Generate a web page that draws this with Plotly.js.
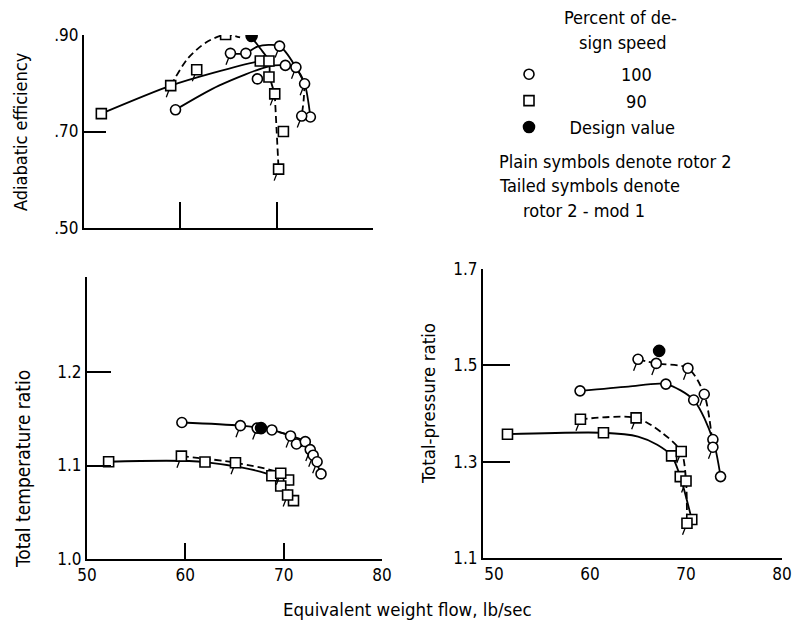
<!DOCTYPE html>
<html>
<head>
<meta charset="utf-8">
<script src="https://cdn.plot.ly/plotly-3.0.1.min.js"></script>
<style>html,body{margin:0;padding:0;background:#fff}</style>
</head>
<body>
<div id="chart" style="width:795px;height:625px"></div>
<script>
// ---------------- Data ----------------
// Panel 1: Adiabatic efficiency
const effCircPlainX = [59.5, 66.8, 68.0, 70.9, 73.5];
const effCircPlainY = [0.745, 0.862, 0.809, 0.837, 0.730];
const effCircTailX  = [65.2, 70.3, 72.0, 72.9, 72.6];
const effCircTailY  = [0.862, 0.877, 0.833, 0.799, 0.732];
const effSqPlainX   = [51.8, 68.3, 69.2, 69.2, 70.7];
const effSqPlainY   = [0.737, 0.846, 0.846, 0.813, 0.700];
const effSqTailX    = [59.0, 61.7, 64.7, 69.8, 70.2];
const effSqTailY    = [0.795, 0.828, 0.901, 0.778, 0.622];
const effDesignX    = [67.4];
const effDesignY    = [0.898];
// faired curves
const eff100SolidX  = [59.5, 64.0, 69.2, 70.9, 72.0, 72.9, 73.5];
const eff100SolidY  = [0.745, 0.795, 0.835, 0.837, 0.830, 0.799, 0.730];
const eff100UpperX  = [65.2, 66.8, 68.0, 70.3, 72.0, 72.9];
const eff100UpperY  = [0.862, 0.862, 0.876, 0.877, 0.833, 0.799];
const eff100DashX   = [72.9, 72.8, 72.6];
const eff100DashY   = [0.799, 0.765, 0.732];
const eff90SolidX   = [51.8, 59.0, 63.5, 68.3, 69.2];
const eff90SolidY   = [0.737, 0.795, 0.822, 0.846, 0.846];
const eff90DropX    = [67.4, 68.3, 69.2, 69.3, 69.8];
const eff90DropY    = [0.895, 0.872, 0.846, 0.813, 0.778];
const eff90DashX    = [59.0, 60.8, 62.7, 64.7, 66.2, null, 69.8, 70.0, 70.2];
const eff90DashY    = [0.795, 0.852, 0.885, 0.901, 0.895, null, 0.778, 0.700, 0.622];

// Panel 2: Total temperature ratio
const tmpCircPlainX = [59.65, 68.8, 71.3, 72.2, 73.8];
const tmpCircPlainY = [1.146, 1.138, 1.123, 1.1255, 1.091];
const tmpCircTailX  = [65.6, 67.3, 70.7, 72.7, 73.0, 73.4];
const tmpCircTailY  = [1.1426, 1.140, 1.1316, 1.117, 1.111, 1.104];
const tmpSqPlainX   = [52.2, 62.0, 68.8, 70.5, 69.7, 71.0];
const tmpSqPlainY   = [1.104, 1.1037, 1.089, 1.0845, 1.078, 1.0624];
const tmpSqTailX    = [59.6, 65.1, 69.7, 70.4];
const tmpSqTailY    = [1.110, 1.103, 1.0917, 1.0684];
const tmpDesignX    = [67.7];
const tmpDesignY    = [1.140];
const tmp100SolidX  = [59.65, 65.6, 68.8, 70.7, 72.2, 73.0, 73.8];
const tmp100SolidY  = [1.146, 1.1426, 1.138, 1.1316, 1.1255, 1.111, 1.091];
const tmp100DashX   = [67.3, 70.7, 71.3, 72.7, 73.4];
const tmp100DashY   = [1.140, 1.1316, 1.123, 1.117, 1.104];
const tmp90SolidX   = [52.2, 62.0, 68.8, 69.7, 71.0];
const tmp90SolidY   = [1.104, 1.1037, 1.089, 1.078, 1.0624];
const tmp90DashX    = [59.6, 65.1, 69.7, 70.5, 70.4];
const tmp90DashY    = [1.110, 1.103, 1.0917, 1.0845, 1.0684];

// Panel 3: Total-pressure ratio
const prCircPlainX  = [58.96, 67.9, 70.8, 72.8, 73.6];
const prCircPlainY  = [1.447, 1.461, 1.428, 1.346, 1.269];
const prCircTailX   = [65.0, 66.9, 70.2, 71.9, 72.8];
const prCircTailY   = [1.5125, 1.504, 1.494, 1.440, 1.330];
const prSqPlainX    = [51.4, 61.4, 68.5, 69.4, 70.6];
const prSqPlainY    = [1.357, 1.360, 1.312, 1.269, 1.180];
const prSqTailX     = [59.0, 64.8, 69.5, 70.0, 70.1];
const prSqTailY     = [1.388, 1.391, 1.321, 1.260, 1.172];
const prDesignX     = [67.2];
const prDesignY     = [1.530];
const pr100SolidX   = [58.96, 64.0, 67.9, 70.8, 72.8, 73.6];
const pr100SolidY   = [1.447, 1.456, 1.461, 1.428, 1.346, 1.269];
const pr100DashX    = [65.0, 66.9, 70.2, 71.9, 72.8];
const pr100DashY    = [1.5125, 1.504, 1.494, 1.440, 1.330];
const pr90SolidX    = [51.4, 61.4, 65.0, 67.0, 68.5, 69.4, 70.6];
const pr90SolidY    = [1.357, 1.360, 1.352, 1.335, 1.312, 1.269, 1.180];
const pr90DashX     = [59.0, 64.8, 67.5, 69.5, 70.0, 70.1];
const pr90DashY     = [1.388, 1.391, 1.360, 1.321, 1.260, 1.172];

// Tick labels / texts
const xTickVals   = [50, 60, 70, 80];
const xTickText   = ['50', '60', '70', '80'];
const effTickVals = [0.5, 0.7, 0.9];
const effTickText = ['.50', '.70', '.90'];
const tmpTickVals = [1.0, 1.1, 1.2];
const tmpTickText = ['1.0', '1.1', '1.2'];
const prTickVals  = [1.1, 1.3, 1.5, 1.7];
const prTickText  = ['1.1', '1.3', '1.5', '1.7'];
const yTitles     = ['Adiabatic efficiency', 'Total temperature ratio', 'Total-pressure ratio'];
const xTitle      = 'Equivalent weight flow, lb/sec';
const legendNames = ['100', '90', 'Design value'];
const legendHead  = ['Percent of de-', 'sign speed'];
const legendNotes = ['Plain symbols denote rotor 2', 'Tailed symbols denote', 'rotor 2 - mod 1'];

// ---------------- Helpers ----------------
const W = 795, H = 625;
const px = v => v / W;
const py = v => 1 - v / H;
const NB = '\u00a0';

function curve(x, y, xa, ya, dashed) {
  return {type: 'scatter', mode: 'lines', x: x, y: y, xaxis: xa, yaxis: ya,
    line: {color: '#000', width: 1.8, shape: 'spline', smoothing: 0.8, dash: dashed ? '7px,4px' : 'solid'},
    connectgaps: false, showlegend: false, hoverinfo: 'skip'};
}
function pts(x, y, xa, ya, symbol, name, show, filled, group) {
  return {type: 'scatter', mode: 'markers', x: x, y: y, xaxis: xa, yaxis: ya,
    name: name || '', showlegend: !!show, legendgroup: group || undefined,
    marker: {symbol: symbol, size: filled ? 11 : 10, color: filled ? '#000' : '#fff',
             line: {color: '#000', width: 1.6}},
    hoverinfo: 'skip'};
}
function tails(x, y, xr, yr) {
  return x.map((xv, i) => ({x: xv, y: y[i], xref: xr, yref: yr, text: '', showarrow: true,
    arrowhead: 0, arrowwidth: 1.3, arrowcolor: '#000', ax: -5, ay: 13, standoff: 5}));
}

const traces = [
  curve(eff90SolidX, eff90SolidY, 'x', 'y', false),
  curve(eff90DropX, eff90DropY, 'x', 'y', false),
  curve(eff90DashX, eff90DashY, 'x', 'y', true),
  curve(eff100SolidX, eff100SolidY, 'x', 'y', false),
  curve(eff100UpperX, eff100UpperY, 'x', 'y', false),
  curve(eff100DashX, eff100DashY, 'x', 'y', true),
  curve(tmp100SolidX, tmp100SolidY, 'x2', 'y2', false),
  curve(tmp100DashX, tmp100DashY, 'x2', 'y2', true),
  curve(tmp90SolidX, tmp90SolidY, 'x2', 'y2', false),
  curve(tmp90DashX, tmp90DashY, 'x2', 'y2', true),
  curve(pr100SolidX, pr100SolidY, 'x3', 'y3', false),
  curve(pr100DashX, pr100DashY, 'x3', 'y3', true),
  curve(pr90SolidX, pr90SolidY, 'x3', 'y3', false),
  curve(pr90DashX, pr90DashY, 'x3', 'y3', true),
  pts(effCircPlainX, effCircPlainY, 'x', 'y', 'circle', NB.repeat(14) + legendNames[0], true, false, 'g1'),
  pts(effSqPlainX, effSqPlainY, 'x', 'y', 'square', NB.repeat(15) + legendNames[1], true, false, 'g2'),
  pts(effCircTailX, effCircTailY, 'x', 'y', 'circle'),
  pts(effSqTailX, effSqTailY, 'x', 'y', 'square'),
  pts(effDesignX, effDesignY, 'x', 'y', 'circle', NB.repeat(4) + legendNames[2], true, true, 'g3'),
  pts(tmpCircPlainX, tmpCircPlainY, 'x2', 'y2', 'circle'),
  pts(tmpCircTailX, tmpCircTailY, 'x2', 'y2', 'circle'),
  pts(tmpSqPlainX, tmpSqPlainY, 'x2', 'y2', 'square'),
  pts(tmpSqTailX, tmpSqTailY, 'x2', 'y2', 'square'),
  pts(tmpDesignX, tmpDesignY, 'x2', 'y2', 'circle', '', false, true),
  pts(prCircPlainX, prCircPlainY, 'x3', 'y3', 'circle'),
  pts(prCircTailX, prCircTailY, 'x3', 'y3', 'circle'),
  pts(prSqPlainX, prSqPlainY, 'x3', 'y3', 'square'),
  pts(prSqTailX, prSqTailY, 'x3', 'y3', 'square'),
  pts(prDesignX, prDesignY, 'x3', 'y3', 'circle', '', false, true)
];

const tickFont = {family: 'DejaVu Sans Condensed', size: 17, color: '#000'};
const FAM = 'DejaVu Sans Condensed';
const tf = s => ({family: FAM, size: s, color: '#000'});

function axisBase(extra) {
  return Object.assign({showline: true, linecolor: '#000', linewidth: 2, ticks: 'inside',
    tickcolor: '#000', tickwidth: 2, showgrid: false, zeroline: false, tickmode: 'array',
    tickfont: tickFont, fixedrange: true}, extra);
}

const annotations = [].concat(
  tails(effCircTailX, effCircTailY, 'x', 'y'),
  tails(effSqTailX, effSqTailY, 'x', 'y'),
  tails(tmpCircTailX, tmpCircTailY, 'x2', 'y2'),
  tails(tmpSqTailX, tmpSqTailY, 'x2', 'y2'),
  tails(prCircTailX, prCircTailY, 'x3', 'y3'),
  tails(prSqTailX, prSqTailY, 'x3', 'y3'),
  [
    {text: yTitles[0], xref: 'paper', yref: 'paper', x: px(20), y: py(132), textangle: -90, showarrow: false, font: tf(18), xanchor: 'center', yanchor: 'middle'},
    {text: yTitles[1], xref: 'paper', yref: 'paper', x: px(23), y: py(469), textangle: -90, showarrow: false, font: tf(19), xanchor: 'center', yanchor: 'middle'},
    {text: yTitles[2], xref: 'paper', yref: 'paper', x: px(428), y: py(404), textangle: -90, showarrow: false, font: tf(18.5), xanchor: 'center', yanchor: 'middle'},
    {text: xTitle, xref: 'paper', yref: 'paper', x: px(407), y: py(609), showarrow: false, font: tf(18.5), xanchor: 'center', yanchor: 'middle'},
    {text: legendHead[0], xref: 'paper', yref: 'paper', x: px(620), y: py(17), showarrow: false, font: tf(18), xanchor: 'center', yanchor: 'middle'},
    {text: legendHead[1], xref: 'paper', yref: 'paper', x: px(623), y: py(42), showarrow: false, font: tf(18), xanchor: 'center', yanchor: 'middle'},
    {text: legendNotes[0], xref: 'paper', yref: 'paper', x: px(497), y: py(161), showarrow: false, font: tf(18), xanchor: 'left', yanchor: 'middle'},
    {text: legendNotes[1], xref: 'paper', yref: 'paper', x: px(497), y: py(185), showarrow: false, font: tf(18), xanchor: 'left', yanchor: 'middle'},
    {text: legendNotes[2], xref: 'paper', yref: 'paper', x: px(584), y: py(210), showarrow: false, font: tf(18), xanchor: 'center', yanchor: 'middle'}
  ]
);

const layout = {
  width: W, height: H,
  margin: {l: 0, r: 0, t: 0, b: 0, pad: 0},
  paper_bgcolor: '#fff', plot_bgcolor: 'rgba(0,0,0,0)',
  showlegend: true,
  legend: {x: px(509), y: py(56), xanchor: 'left', yanchor: 'top', bgcolor: 'rgba(0,0,0,0)',
           font: tf(18), tracegroupgap: 1, itemclick: false, itemdoubleclick: false, traceorder: 'normal'},
  xaxis: axisBase({domain: [px(84), px(373)], range: [50, 80], tickvals: [60, 70, 80], ticklen: 26,
                   showticklabels: false, anchor: 'y'}),
  yaxis: axisBase({domain: [py(228), py(35)], range: [0.5, 0.9], tickvals: effTickVals, ticktext: effTickText,
                   ticklen: 22, anchor: 'x'}),
  xaxis2: axisBase({domain: [px(87), px(382)], range: [50, 80], tickvals: xTickVals, ticktext: xTickText,
                    ticklen: 16, anchor: 'y2'}),
  yaxis2: axisBase({domain: [py(559), py(277)], range: [1.0, 1.3016], tickvals: tmpTickVals, ticktext: tmpTickText,
                    ticklen: 24, anchor: 'x2'}),
  xaxis3: axisBase({domain: [px(483), px(782)], range: [48.85, 80], tickvals: xTickVals, ticktext: xTickText,
                    ticks: '', anchor: 'y3'}),
  xaxis4: axisBase({overlaying: 'x3', anchor: 'y3', range: [48.85, 80], tickvals: [60, 70, 80], ticklen: 21,
                    showticklabels: false, showline: false}),
  yaxis3: axisBase({domain: [py(558), py(269)], range: [1.1, 1.7], tickvals: prTickVals, ticktext: prTickText,
                    ticklen: 27, anchor: 'x3'}),
  annotations: annotations
};

Plotly.newPlot('chart', traces, layout, {staticPlot: true, displayModeBar: false});
</script>
</body>
</html>
